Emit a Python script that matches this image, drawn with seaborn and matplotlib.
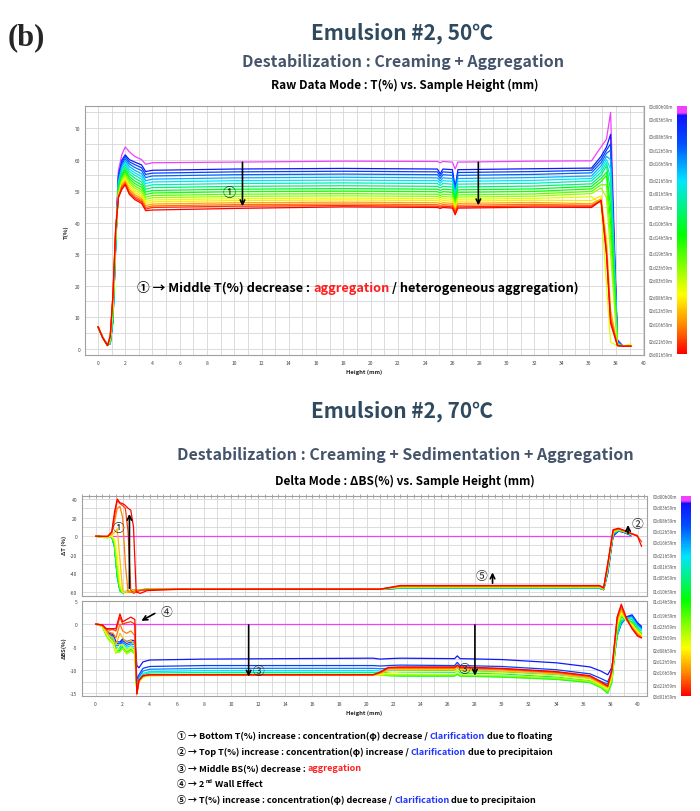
#!/usr/bin/env python3
"""
Emulsion #2 stability profiles (Turbiscan style), 50 C raw mode and 70 C delta mode
"""

import numpy as np
import pandas as pd
import matplotlib.pyplot as plt
import seaborn as sns
from matplotlib.colors import LinearSegmentedColormap, Normalize
from matplotlib.cm import ScalarMappable
from matplotlib.ticker import MultipleLocator, FuncFormatter

nan = np.nan

# --- colour scale / time labels ---
T_MAX = 73.98
CB_HOURS = [0, 3.98, 8.98, 12.98, 16.98, 21.98, 25.98, 29.98, 34.98, 38.98,
            43.98, 47.98, 51.98, 56.98, 60.98, 64.98, 69.98, 73.98]
CB_LABELS = ['00d00h00m', '00d03h59m', '00d08h59m', '00d12h59m', '00d16h59m',
             '00d21h59m', '01d01h59m', '01d05h59m', '01d10h59m', '01d14h59m',
             '01d19h59m', '01d23h59m', '02d03h59m', '02d08h59m', '02d12h59m',
             '02d16h59m', '02d21h59m', '03d01h59m']

# --- 50 C, raw T(%) ---
RAW_TIMES = [0, 4, 9, 13, 18, 22, 27, 31, 36, 40, 45, 49, 54, 58, 63, 67, 71, 74]
RAW_HEIGHTS = [0, 0.35, 0.7, 0.9, 1.1, 1.3, 1.5, 1.75, 2.0, 2.3, 2.7, 3.2, 3.5, 4.0,
               10, 18, 24.9, 25.1, 25.3, 26.0, 26.2, 26.4, 32, 36.2, 36.9, 37.3,
               37.6, 38.1, 38.5, 39.1]
RAW_T = [
    [7.0, 3.5, 1.2, 2.0, 12, 36, 56.5, 61.5, 64.0, 62.5, 61.0, 60.0, 58.5, 59.0, 59.2, 59.5, 59.4, 59.0, 59.4, 59.2, 57.0, 59.2, 59.5, 59.6, 64.0, 66.5, 75.0, 3.0, 0.8, 0.8],
    [7.0, 3.5, 1.2, 1.6, 9, 33, 55.0, 59.8, 61.5, 60.0, 59.2, 58.3, 56.2, 56.6, 57.0, 57.2, 57.0, 55.5, 57.0, 56.8, 51.0, 56.8, 57.1, 57.3, 61.0, 64.0, 68.0, 2.5, 0.8, 0.8],
    [7.0, 3.5, 1.2, 1.6, 9, 33, 54.5, 59.0, 61.0, 59.3, 58.4, 57.4, 55.3, 55.7, 56.1, 56.3, 56.1, 54.8, 56.1, 55.9, 50.5, 55.9, 56.2, 56.6, 60.0, 63.0, 65.0, 2.5, 0.8, 0.8],
    [7.0, 3.5, 1.2, 1.6, 9, 32, 54.0, 58.5, 60.3, 58.6, 57.5, 56.5, 54.3, 54.8, 55.2, 55.4, 55.2, 54.0, 55.2, 55.0, 50.0, 55.0, 55.3, 55.8, 59.0, 62.0, 63.0, 2.2, 0.8, 0.8],
    [7.0, 3.5, 1.2, 1.6, 9, 32, 53.0, 57.8, 59.6, 57.8, 56.6, 55.5, 53.3, 53.8, 54.2, 54.4, 54.2, 53.2, 54.2, 54.0, 49.5, 54.0, 54.3, 54.8, 58.0, 61.0, 60.0, 2.0, 0.8, 0.8],
    [7.0, 3.5, 1.2, 1.7, 10, 33, 52.5, 57.0, 59.0, 57.0, 55.8, 54.6, 52.4, 52.9, 53.3, 53.5, 53.3, 52.5, 53.3, 53.1, 49.0, 53.1, 53.4, 54.0, 57.0, 60.0, 57.0, 1.8, 0.8, 0.8],
    [7.0, 3.5, 1.2, 1.8, 10, 33, 52.0, 56.5, 58.4, 56.3, 55.0, 53.8, 51.5, 52.0, 52.4, 52.6, 52.4, 51.8, 52.4, 52.2, 48.5, 52.2, 52.5, 53.2, 56.0, 59.0, 54.0, 1.6, 0.8, 0.8],
    [7.0, 3.5, 1.1, 2.0, 11, 34, 51.0, 55.5, 57.6, 55.5, 54.1, 52.9, 50.6, 51.1, 51.5, 51.7, 51.5, 51.0, 51.5, 51.3, 48.0, 51.3, 51.6, 52.3, 55.0, 58.0, 50.0, 1.5, 0.8, 0.8],
    [7.0, 3.5, 1.1, 2.2, 11, 34, 50.5, 55.0, 56.8, 54.6, 53.2, 52.0, 49.7, 50.2, 50.6, 50.8, 50.6, 50.2, 50.6, 50.4, 47.5, 50.4, 50.7, 51.5, 54.0, 56.0, 45.0, 1.4, 0.8, 0.8],
    [7.0, 3.5, 1.1, 2.4, 12, 35, 50.0, 54.5, 56.2, 53.9, 52.4, 51.2, 48.9, 49.4, 49.8, 50.0, 49.8, 49.4, 49.8, 49.6, 46.5, 49.6, 49.9, 50.7, 53.0, 55.0, 40.0, 1.3, 0.8, 0.8],
    [7.0, 3.5, 1.1, 2.6, 12, 35, 49.5, 54.0, 55.6, 53.2, 51.6, 50.4, 48.1, 48.6, 49.0, 49.2, 49.0, 48.6, 49.0, 48.8, 46.0, 48.8, 49.1, 49.9, 52.0, 52.0, 35.0, 1.2, 0.8, 0.8],
    [7.0, 3.5, 1.0, 2.8, 13, 36, 49.0, 53.5, 55.0, 52.5, 50.9, 49.7, 47.4, 47.9, 48.3, 48.5, 48.3, 48.0, 48.3, 48.1, 45.5, 48.1, 48.4, 49.2, 51.0, 48.0, 30.0, 1.2, 0.8, 0.8],
    [7.0, 3.5, 1.0, 3.0, 14, 37, 48.5, 53.0, 54.4, 51.8, 50.2, 49.0, 46.7, 47.2, 47.6, 47.8, 47.6, 47.3, 47.6, 47.4, 45.0, 47.4, 47.7, 48.2, 46.0, 20.0, 2.0, 1.0, 0.8, 1.5],
    [7.0, 3.5, 1.0, 3.2, 15, 37, 48.0, 52.5, 53.8, 51.2, 49.6, 48.4, 46.1, 46.6, 47.0, 47.2, 47.0, 46.7, 47.0, 46.8, 44.5, 46.8, 47.1, 47.0, 48.5, 35.0, 12.0, 1.0, 0.8, 0.8],
    [7.0, 3.5, 1.0, 3.5, 16, 38, 48.0, 52.0, 53.2, 50.5, 48.9, 47.7, 45.4, 45.9, 46.3, 46.5, 46.3, 46.0, 46.3, 46.1, 44.0, 46.1, 46.4, 46.0, 47.5, 33.0, 12.0, 1.0, 0.8, 0.8],
    [7.0, 3.5, 1.0, 3.8, 17, 38, 48.0, 51.5, 52.7, 49.9, 48.3, 47.1, 44.8, 45.3, 45.7, 45.9, 45.7, 45.4, 45.7, 45.5, 43.5, 45.5, 45.8, 45.5, 47.0, 31.0, 10.0, 1.0, 0.8, 0.8],
    [7.0, 3.5, 1.0, 4.0, 17, 38, 48.0, 51.0, 52.3, 49.4, 47.8, 46.6, 44.3, 44.8, 45.2, 45.4, 45.2, 44.9, 45.2, 45.0, 43.0, 45.0, 45.3, 45.2, 47.0, 30.0, 9.0, 1.0, 0.8, 0.8],
    [7.0, 3.5, 1.0, 4.0, 17, 38, 48.0, 50.5, 52.0, 49.0, 47.3, 46.1, 43.8, 44.0, 44.5, 45.0, 44.8, 44.5, 44.8, 44.6, 42.5, 44.6, 44.9, 44.8, 47.0, 30.0, 8.0, 1.0, 0.8, 0.8],
]

# --- 70 C, delta mode ---
DELTA_TIMES = [0, 4, 9, 15, 22, 29, 36, 43, 50, 56, 61, 66, 70, 74]
DT_HEIGHTS = [0, 0.5, 0.9, 1.2, 1.4, 1.6, 1.8, 2.0, 2.2, 2.4, 2.6, 2.8, 3.0, 3.3, 3.8,
              6, 12, 18, 21, 22.5, 30, 37.2, 37.5, 37.8, 38.2, 38.6, 39.0, 39.5, 40.0, 40.3]
DELTA_T = [
    [0, 0, 0, 0, 0, 0, 0, 0, 0, 0, 0, 0, 0, 0, 0, 0, 0, 0, 0, 0, 0, 0, 0, 0, 0, 0, 0, 0, nan, nan],
    [0, -0.5, -0.8, -0.3, -10, -40, -57, -60, -59.5, -59, -58.5, -58, -57.8, -57.5, -57.2, -57.0, -57.0, -57.0, -57.0, -56.0, -56.0, -56.0, -57.5, -40, 0, 5.5, 4.0, 1.0, nan, nan],
    [0, -0.6, -1.0, -0.4, -11, -42, -58, -60.5, -59.8, -59.2, -58.7, -58.2, -57.9, -57.6, -57.2, -57.0, -57.0, -57.0, -57.0, -55.9, -55.9, -55.9, -57.5, -39, 1, 5.8, 4.2, 1.2, nan, nan],
    [0, -0.7, -1.2, -0.5, -12, -43, -58.5, -60.8, -60, -59.3, -58.8, -58.3, -58, -57.6, -57.2, -57.0, -57.0, -57.0, -57.0, -55.8, -55.8, -55.8, -57.5, -38, 2, 6.0, 4.4, 1.4, nan, nan],
    [0, -0.8, -1.3, -0.6, -12, -44, -59, -61, -60, -59.4, -58.8, -58.3, -58, -57.6, -57.2, -57.0, -57.0, -57.0, -57.0, -55.7, -55.7, -55.7, -57.4, -37, 2.5, 6.2, 4.6, 1.6, nan, nan],
    [0, -1.0, -1.4, -0.6, -11, -43, -58.5, -61, -60, -59.4, -58.8, -58.3, -58, -57.6, -57.2, -57.0, -57.0, -57.0, -57.0, -55.5, -55.5, -55.5, -57.3, -36, 3, 6.4, 4.8, 1.8, nan, nan],
    [0, -1.3, -1.6, -0.6, -10, -42, -58, -61, -60, -59.4, -58.8, -58.3, -58, -57.6, -57.2, -57.0, -57.0, -57.0, -57.0, -55.3, -55.3, -55.3, -57.2, -35, 3.5, 6.5, 5.0, 2.0, nan, nan],
    [0, -1.2, -1.5, -0.4, -8, -38, -57, -60.5, -60, -59.4, -58.8, -58.3, -58, -57.6, -57.2, -57.0, -57.0, -57.0, -57.0, -55.0, -55.0, -55.0, -57.0, -35, 4, 6.8, 5.2, 2.2, nan, nan],
    [0, -1.0, -1.2, -0.2, -6, -33, -55, -60, -60, -59.4, -58.8, -58.3, -58, -57.6, -57.2, -57.0, -57.0, -57.0, -57.0, -54.7, -54.7, -54.7, -56.8, -34, 4.5, 7.0, 5.4, 2.4, nan, nan],
    [0, -0.6, -0.8, 0.0, -3, -20, -50, -60, -60.3, -59.6, -59, -58.4, -58, -57.6, -57.2, -57.0, -57.0, -57.0, -57.0, -54.3, -54.3, -54.3, -56.5, -33, 5, 7.3, 5.6, 2.6, nan, nan],
    [0, -0.4, -0.5, 1.0, 4, 8, -25, -58, -61, -60, -59.2, -58.5, -58, -57.6, -57.2, -57.0, -57.0, -57.0, -57.0, -54.0, -54.0, -54.0, -56.2, -32, 5.5, 7.5, 5.8, 2.8, nan, nan],
    [0, -0.3, -0.3, 3.0, 15, 30, 32, 20, -30, -60, -60.5, -59.5, -58.5, -57.8, -57.3, -57.0, -57.0, -57.0, -57.0, -53.7, -53.7, -53.7, -56.0, -31, 6, 7.8, 6.0, 3.0, 1.0, nan],
    [0, -0.2, -0.2, 4.0, 22, 38, 35, 33, 30, 5, -58, -61.5, -60, -58.5, -57.6, -57.0, -57.0, -57.0, -57.0, -53.4, -53.4, -53.4, -55.8, -30, 6.5, 8.0, 6.0, 3.0, 0.0, -6],
    [0, -0.2, -0.2, 5.0, 26, 40, 36, 35, 33, 30, 28, 10, -60, -61.5, -58.5, -57.2, -57.0, -57.0, -57.0, -53.0, -53.0, -53.0, -55.5, -30, 7, 8.5, 6.3, 3.2, 0.0, -11],
]

BS_HEIGHTS = [0, 0.5, 0.8, 1.0, 1.3, 1.5, 1.8, 2.0, 2.3, 2.6, 2.9, 3.05, 3.2, 3.5, 4.0, 8,
              14, 20.5, 21.0, 21.6, 22.5, 26.5, 26.7, 26.9, 30, 34, 36.5, 37.3, 37.8,
              38.1, 38.5, 38.8, 39.2, 39.6, 40.0, 40.3]
DELTA_BS = [
    [0, 0, 0, 0, 0, 0, 0, 0, 0, 0, 0, 0, 0, 0, 0, 0, 0, 0, 0, 0, 0, 0, 0, 0, 0, 0, 0, 0, 0, 0, nan, nan, nan, nan, nan, nan],
    [0, -0.2, -1.5, -2.0, -2.3, -3.8, -3.9, -3.2, -3.8, -3.5, -3.6, -9.0, -9.5, -8.2, -7.8, -7.6, -7.5, -7.4, -7.6, -7.5, -7.4, -7.5, -6.9, -7.5, -7.7, -8.4, -9.3, -10.2, -11.0, -9.5, -2.0, 0.3, 1.6, 2.0, 0.3, -0.5],
    [0, -0.3, -1.8, -2.3, -2.6, -4.2, -4.3, -3.6, -4.2, -3.9, -4.0, -12.0, -11.0, -9.6, -9.2, -9.0, -9.0, -9.0, -9.1, -9.0, -8.9, -9.0, -8.3, -9.0, -9.2, -9.9, -10.8, -11.8, -12.5, -10.5, -2.5, 0.0, 1.5, 1.8, 0.0, -0.8],
    [0, -0.3, -2.0, -2.5, -2.8, -4.6, -4.7, -4.0, -4.6, -4.3, -4.5, -13.0, -11.5, -10.2, -9.8, -9.6, -9.6, -9.6, -9.7, -9.6, -9.5, -9.6, -8.9, -9.6, -9.8, -10.5, -11.4, -12.4, -13.0, -11.0, -2.5, 0.2, 1.4, 1.6, -0.2, -1.0],
    [0, -0.4, -2.2, -2.8, -3.1, -5.0, -5.1, -4.4, -5.0, -4.7, -5.0, -13.8, -12.0, -10.7, -10.3, -10.1, -10.1, -10.1, -10.2, -10.1, -10.0, -10.1, -9.5, -10.1, -10.4, -11.0, -11.9, -12.8, -13.5, -11.5, -2.5, 0.5, 1.3, 1.3, -0.5, -1.2],
    [0, -0.4, -2.3, -3.0, -3.4, -5.4, -5.4, -4.8, -5.5, -5.1, -5.5, -14.2, -12.3, -11.0, -10.6, -10.5, -10.5, -10.5, -10.6, -10.5, -10.5, -10.5, -10.0, -10.6, -10.8, -11.5, -12.3, -13.2, -14.0, -12.0, -2.0, 0.8, 1.2, 1.0, -0.8, -1.5],
    [0, -0.5, -2.5, -3.3, -3.8, -5.9, -5.7, -5.1, -6.0, -5.5, -6.0, -14.6, -12.5, -11.3, -11.0, -10.9, -10.9, -10.9, -11.0, -11.2, -11.3, -11.3, -10.9, -11.3, -11.5, -12.0, -12.7, -13.8, -15.0, -12.8, -1.5, 1.5, 1.0, 0.5, -1.2, -2.0],
    [0, -0.5, -2.5, -3.5, -4.2, -6.2, -6.0, -5.3, -6.4, -5.8, -6.4, -14.8, -12.6, -11.4, -11.1, -11.0, -11.0, -11.0, -11.0, -11.1, -11.1, -11.2, -10.8, -11.2, -11.4, -11.9, -12.6, -13.7, -14.8, -12.5, -1.0, 1.8, 0.9, 0.2, -1.3, -2.2],
    [0, -0.5, -2.4, -3.4, -4.3, -6.3, -6.0, -5.3, -6.5, -5.8, -6.5, -14.9, -12.6, -11.5, -11.2, -11.1, -11.1, -11.1, -11.1, -11.0, -11.0, -11.0, -10.6, -11.0, -11.2, -11.7, -12.4, -13.5, -14.5, -12.0, -0.5, 2.0, 0.8, 0.0, -1.5, -2.4],
    [0, -0.4, -2.0, -3.0, -4.0, -6.0, -4.5, -4.5, -5.8, -5.0, -6.0, -15.0, -12.5, -11.5, -11.2, -11.1, -11.1, -11.1, -11.0, -10.6, -10.4, -10.3, -9.9, -10.3, -10.6, -11.2, -12.0, -13.2, -14.0, -11.5, 0.0, 2.5, 0.7, -0.2, -1.6, -2.5],
    [0, -0.3, -1.6, -2.4, -3.0, -4.5, -2.0, -3.0, -4.0, -3.5, -4.5, -15.0, -12.4, -11.4, -11.1, -11.0, -11.0, -11.0, -10.8, -10.0, -9.9, -9.9, -9.4, -9.9, -10.2, -10.8, -11.7, -13.0, -13.8, -11.0, 0.5, 3.0, 0.8, -0.5, -1.9, -2.7],
    [0, -0.3, -1.3, -1.8, -2.0, -3.0, 0.0, -1.5, -2.0, -1.5, -2.5, -15.0, -12.3, -11.3, -11.0, -11.0, -11.0, -11.0, -10.6, -9.7, -9.6, -9.6, -9.2, -9.6, -9.9, -10.6, -11.5, -12.8, -13.6, -10.5, 1.0, 3.5, 0.9, -0.8, -2.2, -2.9],
    [0, -0.2, -1.1, -1.3, -1.2, -1.5, 1.5, 0.0, 0.3, 0.5, 0.0, -15.1, -12.2, -11.2, -11.0, -11.0, -11.0, -11.0, -10.5, -9.5, -9.4, -9.4, -9.0, -9.4, -9.7, -10.4, -11.3, -12.6, -13.5, -10.0, 1.5, 4.0, 1.0, -1.0, -2.5, -3.0],
    [0, -0.2, -1.0, -1.0, -1.0, -1.0, 2.2, 0.5, 1.0, 1.5, 1.0, -15.2, -12.2, -11.2, -11.0, -11.0, -11.0, -11.0, -10.4, -9.4, -9.3, -9.3, -8.9, -9.3, -9.6, -10.3, -11.2, -12.5, -13.4, -10.0, 1.5, 4.3, 1.2, -1.0, -2.6, -3.0],
]

# --- text ---
RED = '#ff1f1f'
BLUE = '#2233ff'
TITLE_COLOR = '#2f4a5e'
SUB_COLOR = '#44546a'
FONTS = ['Noto Sans CJK KR', 'DejaVu Sans']

NOTE_TOP = [('① → Middle T(%) decrease : ', 'black'), ('aggregation', RED),
            (' / heterogeneous aggregation)', 'black')]
LEGEND_LINES = [
    [('① → Bottom T(%) increase : concentration(φ) decrease / ', 'black'),
     ('Clarification', BLUE), (' due to floating', 'black')],
    [('② → Top T(%) increase : concentration(φ) increase / ', 'black'),
     ('Clarification', BLUE), (' due to precipitaion', 'black')],
    [('③ → Middle BS(%) decrease : ', 'black'), ('aggregation', RED)],
    None,
    [('⑤ → T(%) increase : concentration(φ) decrease / ', 'black'),
     ('Clarification', BLUE), (' due to precipitaion', 'black')],
]


def long_frame(heights, times, rows):
    recs = []
    for t, row in zip(times, rows):
        for h, v in zip(heights, row):
            recs.append((t, h, v))
    return pd.DataFrame(recs, columns=['time', 'height', 'value']).dropna()


def ink_width(fig, s, size):
    # width in display pixels of a bold string as matplotlib lays it out
    if not s:
        return 0.0
    r = fig.canvas.get_renderer()
    t = fig.text(0, 0, s, fontsize=size, fontweight='bold', family=FONTS)
    w = t.get_window_extent(renderer=r).width
    t.remove()
    return w


def colored_line(fig, x, y, segments, size):
    # each piece placed where it falls inside the whole line's layout
    kw = dict(fontsize=size, fontweight='bold', family=FONTS, va='baseline', ha='left')
    x0 = x * fig.bbox.width
    upto = ''
    for s, c in segments:
        upto += s
        word = s.strip()
        left = x0 + ink_width(fig, upto.rstrip(), size) - ink_width(fig, word, size)
        fig.text(left / fig.bbox.width, y, word, color=c, **kw)


def label_every(step):
    return FuncFormatter(lambda v, p: f'{v:g}' if abs(v / step - round(v / step)) < 1e-6 else '')


def style_axes(ax, xmaj, xlab, ymaj, ylab, yminor):
    ax.xaxis.set_major_locator(MultipleLocator(xmaj))
    ax.xaxis.set_major_formatter(label_every(xlab))
    ax.xaxis.set_minor_locator(MultipleLocator(0.5))
    ax.yaxis.set_major_locator(MultipleLocator(ymaj))
    ax.yaxis.set_major_formatter(label_every(ylab))
    ax.yaxis.set_minor_locator(MultipleLocator(yminor))
    ax.grid(which='major', color='#d6d6d6', lw=0.6)
    ax.tick_params(which='both', direction='inout', labelsize=3.6, labelcolor='#444444',
                   color='#888888', width=0.5, pad=1.5)
    ax.tick_params(which='major', length=3.5)
    ax.tick_params(which='minor', length=2.5)
    for sp in ax.spines.values():
        sp.set_color('#a0a0a0')
        sp.set_linewidth(0.8)
    ax.set_xlabel('')
    ax.set_ylabel('')


def add_colorbar(fig, rect, cmap, norm):
    cax = fig.add_axes(rect)
    cb = fig.colorbar(ScalarMappable(norm=norm, cmap=cmap), cax=cax)
    cb.outline.set_visible(False)
    cax.invert_yaxis()
    cax.yaxis.set_ticks_position('left')
    cax.set_yticks(CB_HOURS)
    cax.set_yticklabels(CB_LABELS)
    cax.tick_params(length=0, labelsize=3.2, labelcolor='#555555', pad=3)


def main():
    sns.set_style('white')
    plt.rcParams['font.family'] = FONTS

    cmap = LinearSegmentedColormap.from_list('turbi', [
        (0.0, '#f040ff'), (0.025, '#f040ff'), (0.035, '#1010ff'), (0.15, '#0050ff'),
        (0.30, '#00e5ff'), (0.52, '#00ff00'), (0.76, '#ffff00'), (0.88, '#ff8c00'),
        (1.0, '#ff0000')])
    norm = Normalize(0, T_MAX)

    fig = plt.figure(figsize=(7, 8.12), dpi=100)
    W, H = 700, 812

    def fx(px):
        return px / W

    def fy(py):
        return 1 - py / H

    # headings
    fig.text(fx(8), fy(38), '(b)', fontsize=22, fontweight='bold',
             family=['Liberation Serif', 'DejaVu Serif'], va='center')
    fig.text(fx(402), fy(33), 'Emulsion #2, 50℃', fontsize=15, fontweight='bold',
             color=TITLE_COLOR, ha='center', va='center')
    fig.text(fx(403), fy(62), 'Destabilization : Creaming + Aggregation', fontsize=11.5,
             fontweight='bold', color=SUB_COLOR, ha='center', va='center')
    fig.text(fx(405), fy(85), 'Raw Data Mode : T(%) vs. Sample Height (mm)', fontsize=8.5,
             fontweight='bold', color='black', ha='center', va='center')
    fig.text(fx(402), fy(411), 'Emulsion #2, 70℃', fontsize=15, fontweight='bold',
             color=TITLE_COLOR, ha='center', va='center')
    fig.text(fx(405), fy(455), 'Destabilization : Creaming + Sedimentation + Aggregation',
             fontsize=11.5, fontweight='bold', color=SUB_COLOR, ha='center', va='center')
    fig.text(fx(405), fy(481), 'Delta Mode : ΔBS(%) vs. Sample Height (mm)', fontsize=8.5,
             fontweight='bold', color='black', ha='center', va='center')

    # --- top: raw T ---
    ax = fig.add_axes([fx(85), fy(356), fx(644) - fx(85), (356 - 107) / H])
    df_raw = long_frame(RAW_HEIGHTS, RAW_TIMES, RAW_T)
    sns.lineplot(data=df_raw, x='height', y='value', hue='time', palette=cmap,
                 hue_norm=(0, T_MAX), estimator=None, sort=False, legend=False,
                 lw=0.9, ax=ax)
    ax.set_xlim(-0.95, 40.05)
    ax.set_ylim(-2, 77)
    style_axes(ax, 1, 2, 5, 10, 2.5)
    fig.text(fx(66), fy(232), 'T(%)', fontsize=4.2, fontweight='bold', rotation=90,
             ha='center', va='center')
    fig.text(fx(364), fy(372), 'Height (mm)', fontsize=4.2, fontweight='bold',
             ha='center', va='center')
    arrow = dict(arrowstyle='->', color='black', lw=1.2, mutation_scale=8)
    ax.annotate('', xy=(10.6, 44.3), xytext=(10.6, 60.0), arrowprops=arrow)
    ax.annotate('', xy=(27.9, 44.6), xytext=(27.9, 60.0), arrowprops=arrow)
    ax.text(9.6, 49.4, '①', fontsize=9.5, ha='center', va='center')
    colored_line(fig, fx(137), fy(292), NOTE_TOP, 9.2)
    add_colorbar(fig, [fx(677), fy(355), 10 / W, 248 / H], cmap, norm)

    # --- bottom: delta T ---
    ax_t = fig.add_axes([fx(82), fy(597), fx(647) - fx(82), 100 / H])
    df_dt = long_frame(DT_HEIGHTS, DELTA_TIMES, DELTA_T)
    sns.lineplot(data=df_dt, x='height', y='value', hue='time', palette=cmap,
                 hue_norm=(0, T_MAX), estimator=None, sort=False, legend=False,
                 lw=0.9, ax=ax_t)
    ax_t.set_xlim(-1.0, 40.7)
    ax_t.set_ylim(-64.3, 43.2)
    style_axes(ax_t, 1, 2, 10, 20, 5)
    ax_t.tick_params(axis='x', which='both', top=True, bottom=False,
                     labelbottom=False, labeltop=False)
    fig.text(fx(64), fy(545), 'ΔT (%)', fontsize=4.2, fontweight='bold', rotation=90,
             ha='center', va='center')
    ax_t.annotate('', xy=(2.5, 27), xytext=(2.5, -59), arrowprops=arrow)
    ax_t.text(1.7, 9, '①', fontsize=8.5, ha='center', va='center')
    ax_t.annotate('', xy=(39.3, 15), xytext=(39.3, 0), arrowprops=arrow)
    ax_t.text(40.0, 14, '②', fontsize=8.5, ha='center', va='center')
    ax_t.annotate('', xy=(29.3, -36), xytext=(29.3, -53.5), arrowprops=arrow)
    ax_t.text(28.5, -42, '⑤', fontsize=8.5, ha='center', va='center')

    # --- bottom: delta BS ---
    ax_b = fig.add_axes([fx(82), fy(697), fx(647) - fx(82), 95 / H])
    df_bs = long_frame(BS_HEIGHTS, DELTA_TIMES, DELTA_BS)
    sns.lineplot(data=df_bs, x='height', y='value', hue='time', palette=cmap,
                 hue_norm=(0, T_MAX), estimator=None, sort=False, legend=False,
                 lw=0.9, ax=ax_b)
    ax_b.set_xlim(-1.0, 40.7)
    ax_b.set_ylim(-15.6, 5.0)
    style_axes(ax_b, 1, 2, 2.5, 5, 1.25)
    fig.text(fx(64), fy(648), 'ΔBS(%)', fontsize=4.2, fontweight='bold', rotation=90,
             ha='center', va='center')
    fig.text(fx(364), fy(713), 'Height (mm)', fontsize=4.2, fontweight='bold',
             ha='center', va='center')
    ax_b.annotate('', xy=(3.2, 0.4), xytext=(4.55, 2.6), arrowprops=arrow)
    ax_b.text(5.2, 2.8, '④', fontsize=8.5, ha='center', va='center')
    ax_b.annotate('', xy=(11.3, -12.0), xytext=(11.3, 0.4), arrowprops=arrow)
    ax_b.text(12.0, -10.0, '③', fontsize=8.5, ha='center', va='center')
    ax_b.annotate('', xy=(28.0, -11.8), xytext=(28.0, 0.4), arrowprops=arrow)
    ax_b.text(27.2, -9.6, '③', fontsize=8.5, ha='center', va='center')
    add_colorbar(fig, [fx(681), fy(697), 10 / W, 200 / H], cmap, norm)

    # legend notes
    size = 6.5
    for i, parts in enumerate(LEGEND_LINES):
        y = fy(739 + 16 * i)
        if parts is not None:
            colored_line(fig, fx(177), y, parts, size)
            continue
        # line 4 with superscript "nd"
        kw = dict(fontweight='bold', family=FONTS, va='baseline', ha='left', color='black')
        x = fx(177)
        fig.text(x, y, '④ → 2', fontsize=size, **kw)
        x += (ink_width(fig, '④ → 2', size) + 0.8) / fig.bbox.width
        fig.text(x, y + 0.005, 'nd', fontsize=size * 0.6, **kw)
        x += (ink_width(fig, 'nd', size * 0.6) + 2.5) / fig.bbox.width
        fig.text(x, y, 'Wall Effect', fontsize=size, **kw)

    fig.savefig('out.png', dpi=100)
    plt.close(fig)


if __name__ == '__main__':
    main()
